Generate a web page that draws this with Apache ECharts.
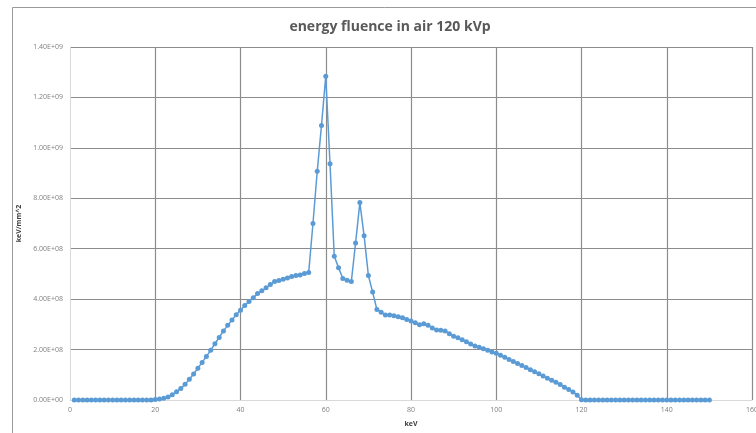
<!DOCTYPE html>
<html>
<head>
<meta charset="utf-8">
<title>energy fluence in air 120 kVp</title>
<script src="https://cdn.jsdelivr.net/npm/echarts@6/dist/echarts.min.js"></script>
<style>
  html, body { margin: 0; padding: 0; background: #fff; }
  #chart { width: 756px; height: 433px; }
</style>
</head>
<body>
<div id="chart"></div>
<script>
// photon energy, keV
const energies = [
  1, 2, 3, 4, 5, 6, 7, 8, 9, 10,
  11, 12, 13, 14, 15, 16, 17, 18, 19, 20,
  21, 22, 23, 24, 25, 26, 27, 28, 29, 30,
  31, 32, 33, 34, 35, 36, 37, 38, 39, 40,
  41, 42, 43, 44, 45, 46, 47, 48, 49, 50,
  51, 52, 53, 54, 55, 56, 57, 58, 59, 60,
  61, 62, 63, 64, 65, 66, 67, 68, 69, 70,
  71, 72, 73, 74, 75, 76, 77, 78, 79, 80,
  81, 82, 83, 84, 85, 86, 87, 88, 89, 90,
  91, 92, 93, 94, 95, 96, 97, 98, 99, 100,
  101, 102, 103, 104, 105, 106, 107, 108, 109, 110,
  111, 112, 113, 114, 115, 116, 117, 118, 119, 120,
  121, 122, 123, 124, 125, 126, 127, 128, 129, 130,
  131, 132, 133, 134, 135, 136, 137, 138, 139, 140,
  141, 142, 143, 144, 145, 146, 147, 148, 149, 150
];

// energy fluence, keV/mm^2
const fluence = [
  0, 0, 0, 0, 0, 0, 0, 0, 0, 0,
  0, 0, 0, 0, 0, 0, 0, 0, 0, 2e6,
  4e6, 7e6, 1.2e7, 2.1e7, 3.3e7, 4.6e7, 6.2e7, 8.2e7, 1.03e8, 1.26e8,
  1.49e8, 1.73e8, 1.97e8, 2.23e8, 2.48e8, 2.74e8, 2.96e8, 3.17e8, 3.38e8, 3.56e8,
  3.75e8, 3.91e8, 4.06e8, 4.22e8, 4.33e8, 4.45e8, 4.58e8, 4.70e8, 4.74e8, 4.79e8,
  4.84e8, 4.90e8, 4.94e8, 4.96e8, 5.02e8, 5.06e8, 7.00e8, 9.07e8, 1.089e9, 1.284e9,
  9.37e8, 5.70e8, 5.25e8, 4.82e8, 4.75e8, 4.70e8, 6.23e8, 7.83e8, 6.51e8, 4.94e8,
  4.28e8, 3.59e8, 3.48e8, 3.37e8, 3.37e8, 3.34e8, 3.30e8, 3.26e8, 3.19e8, 3.13e8,
  3.06e8, 2.98e8, 3.02e8, 2.96e8, 2.86e8, 2.78e8, 2.77e8, 2.74e8, 2.63e8, 2.53e8,
  2.47e8, 2.39e8, 2.31e8, 2.22e8, 2.14e8, 2.09e8, 2.03e8, 1.97e8, 1.90e8, 1.85e8,
  1.77e8, 1.70e8, 1.61e8, 1.53e8, 1.45e8, 1.37e8, 1.29e8, 1.20e8, 1.12e8, 1.04e8,
  9.5e7, 8.6e7, 7.8e7, 7.0e7, 6.1e7, 5.1e7, 4.2e7, 3.2e7, 1.9e7, 1e6,
  0, 0, 0, 0, 0, 0, 0, 0, 0, 0,
  0, 0, 0, 0, 0, 0, 0, 0, 0, 0,
  0, 0, 0, 0, 0, 0, 0, 0, 0, 0
];

const yTickLabels = ['0.00E+00', '2.00E+08', '4.00E+08', '6.00E+08',
  '8.00E+08', '1.00E+09', '1.20E+09', '1.40E+09'];

const chart = echarts.init(document.getElementById('chart'));

chart.setOption({
  animation: false,
  title: {
    text: 'energy fluence in air 120 kVp',
    left: 385,
    top: 15,
    textAlign: 'center',
    textStyle: {
      fontFamily: 'Open Sans',
      fontSize: 14,
      fontWeight: 'bold',
      color: '#595959'
    }
  },
  graphic: [{
    type: 'rect',
    shape: { x: 12.5, y: 7.5, width: 800, height: 500 },
    style: { fill: 'none', stroke: '#9a9a9a', lineWidth: 1 },
    silent: true
  }],
  grid: {
    left: 70,
    right: 4,
    top: 47,
    bottom: 33,
    containLabel: false,
    outerBoundsMode: 'none'
  },
  xAxis: {
    type: 'value',
    min: 0,
    max: 160,
    interval: 20,
    name: 'keV',
    nameLocation: 'middle',
    nameGap: 20,
    nameTextStyle: { fontSize: 7, fontWeight: 'bold', color: '#404040', fontFamily: 'Open Sans' },
    axisLine: { lineStyle: { color: '#d9d9d9', width: 1 } },
    axisTick: { show: false },
    axisLabel: { fontSize: 7, color: '#7f7f7f', margin: 6, fontFamily: 'Open Sans' },
    splitLine: { show: true, showMinLine: false, lineStyle: { color: '#8c8c8c', width: 1.2 } }
  },
  yAxis: {
    type: 'value',
    min: 0,
    max: 1.4e9,
    interval: 2e8,
    name: 'keV/mm^2',
    nameLocation: 'middle',
    nameGap: 41,
    nameTextStyle: { fontSize: 7, fontWeight: 'bold', color: '#404040', fontFamily: 'Open Sans' },
    axisLine: { show: true, lineStyle: { color: '#d9d9d9', width: 1 } },
    axisTick: { show: false },
    axisLabel: {
      fontSize: 7,
      color: '#7f7f7f',
      margin: 7,
      fontFamily: 'Open Sans',
      formatter: function (v) {
        return yTickLabels[Math.round(v / 2e8)];
      }
    },
    splitLine: { show: true, showMinLine: false, lineStyle: { color: '#8c8c8c', width: 1.2 } }
  },
  series: [{
    type: 'line',
    data: energies.map((e, i) => [e, fluence[i]]),
    symbol: 'circle',
    symbolSize: 5,
    showAllSymbol: true,
    lineStyle: { color: '#5b9bd5', width: 1.5 },
    itemStyle: { color: '#5b9bd5' }
  }]
});
</script>
</body>
</html>
